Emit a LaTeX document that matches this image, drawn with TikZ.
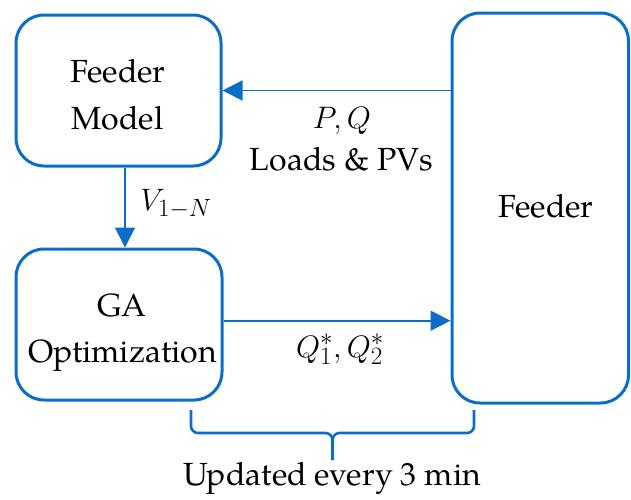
\RequirePackage{fix-cm}
\documentclass[tikz,border=0pt]{standalone}
\usepackage{fontspec}
\setmainfont{TeX Gyre Pagella}
\DeclareMathSizes{32}{31}{25}{20}
\usetikzlibrary{arrows.meta,calc}
\definecolor{lineblue}{RGB}{10,110,200}
\tikzset{
  box/.style={draw=lineblue, line width=3pt, rounded corners=28pt, rectangle, inner sep=0pt},
  flow/.style={draw=lineblue, line width=1.6pt, -{Triangle[length=20pt,width=20pt]}},
  bracepath/.style={draw=lineblue, line width=2.6pt, rounded corners=7pt},
  txt/.style={anchor=base, inner sep=0pt, text=black, font=\fontsize{32}{40}\selectfont}
}
\begin{document}
\begin{tikzpicture}[x=1pt,y=-1pt]
  \useasboundingbox (0,0) rectangle (631,499);

  % blocks
  \node[box, minimum width=205pt, minimum height=151pt] (fm) at (118.5,90.5) {};
  \node[box, minimum width=206pt, minimum height=151pt] (ga) at (119,324.5) {};
  \node[box, minimum width=176.5pt, minimum height=390pt] (feeder) at (540.25,208) {};

  % block texts
  \node[txt] (fmA) at (118,82) {Feeder};
  \node[txt] (fmB) at (117.5,129) {Model};
  \node[txt] (gaA) at (122,316) {GA};
  \node[txt] (gaB) at (122.5,362) {Optimization};
  \node[txt] (fdA) at (546,217) {Feeder};

  % signal flow
  \draw[flow] (feeder.west |- fm.east) -- (fm.east);
  \draw[flow] ([xshift=6.5pt]fm.south) -- ([xshift=6.5pt]fm.south |- ga.north);
  \draw[flow] ([yshift=3.8pt]ga.east) -- ([yshift=3.8pt]ga.east -| feeder.west);

  % signal labels
  \node[txt] (pq) at (342,128) {$P, Q$};
  \node[txt] (lp) at (341.5,170) {Loads \& PVs};
  \node[txt] (vn) at (176,210) {$V_{1-N}$};
  \node[txt] (qs) at (340,357) {$Q_1^{*}, Q_2^{*}$};

  % update interval brace
  \coordinate (bl) at (191,410);
  \coordinate (br) at (474,410);
  \coordinate (bm) at (332.5,433);
  \coordinate (bt) at (332.5,460);
  \draw[bracepath] (bl) -- (bl |- bm) -- (bm) -- (bt);
  \draw[bracepath] (br) -- (br |- bm) -- (bm) -- (bt);
  \node[txt] (upd) at (332,485) {Updated every 3 min};
\end{tikzpicture}
\end{document}
